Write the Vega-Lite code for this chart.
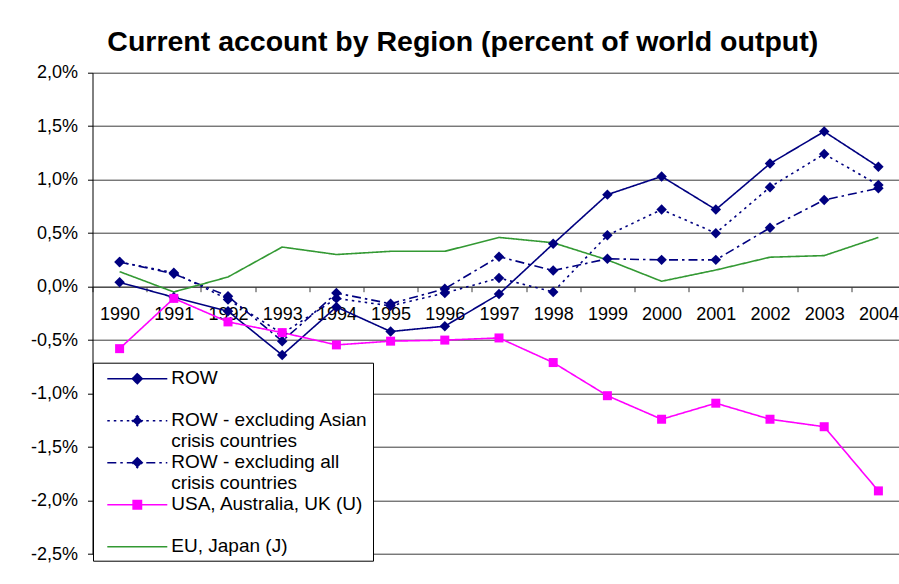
{
  "$schema": "https://vega.github.io/schema/vega-lite/v6.json",
  "width": 806.5,
  "height": 481.3,
  "autosize": {"type": "none"},
  "padding": {"left": 92.5, "top": 72.7, "right": 0, "bottom": 30},
  "background": "white",
  "config": {"view": {"stroke": null}, "font": "Liberation Sans"},
  "title": {"text": "Current account by Region (percent of world output)", "font": "Liberation Sans", "fontSize": 28.5, "fontWeight": "bold", "color": "black", "anchor": "middle", "frame": "group", "dx": -33, "offset": 7},
  "data": {"values": [
    {"year": "1990", "series": "ROW", "v": 0.04},
    {"year": "1991", "series": "ROW", "v": -0.10},
    {"year": "1992", "series": "ROW", "v": -0.23},
    {"year": "1993", "series": "ROW", "v": -0.64},
    {"year": "1994", "series": "ROW", "v": -0.19},
    {"year": "1995", "series": "ROW", "v": -0.42},
    {"year": "1996", "series": "ROW", "v": -0.37},
    {"year": "1997", "series": "ROW", "v": -0.07},
    {"year": "1998", "series": "ROW", "v": 0.40},
    {"year": "1999", "series": "ROW", "v": 0.86},
    {"year": "2000", "series": "ROW", "v": 1.03},
    {"year": "2001", "series": "ROW", "v": 0.72},
    {"year": "2002", "series": "ROW", "v": 1.15},
    {"year": "2003", "series": "ROW", "v": 1.45},
    {"year": "2004", "series": "ROW", "v": 1.12},
    {"year": "1990", "series": "ROW - excluding Asian crisis countries", "v": 0.23},
    {"year": "1991", "series": "ROW - excluding Asian crisis countries", "v": 0.13},
    {"year": "1992", "series": "ROW - excluding Asian crisis countries", "v": -0.12},
    {"year": "1993", "series": "ROW - excluding Asian crisis countries", "v": -0.44},
    {"year": "1994", "series": "ROW - excluding Asian crisis countries", "v": -0.11},
    {"year": "1995", "series": "ROW - excluding Asian crisis countries", "v": -0.18},
    {"year": "1996", "series": "ROW - excluding Asian crisis countries", "v": -0.06},
    {"year": "1997", "series": "ROW - excluding Asian crisis countries", "v": 0.08},
    {"year": "1998", "series": "ROW - excluding Asian crisis countries", "v": -0.05},
    {"year": "1999", "series": "ROW - excluding Asian crisis countries", "v": 0.48},
    {"year": "2000", "series": "ROW - excluding Asian crisis countries", "v": 0.72},
    {"year": "2001", "series": "ROW - excluding Asian crisis countries", "v": 0.50},
    {"year": "2002", "series": "ROW - excluding Asian crisis countries", "v": 0.93},
    {"year": "2003", "series": "ROW - excluding Asian crisis countries", "v": 1.24},
    {"year": "2004", "series": "ROW - excluding Asian crisis countries", "v": 0.95},
    {"year": "1990", "series": "ROW - excluding all crisis countries", "v": 0.23},
    {"year": "1991", "series": "ROW - excluding all crisis countries", "v": 0.12},
    {"year": "1992", "series": "ROW - excluding all crisis countries", "v": -0.09},
    {"year": "1993", "series": "ROW - excluding all crisis countries", "v": -0.51},
    {"year": "1994", "series": "ROW - excluding all crisis countries", "v": -0.06},
    {"year": "1995", "series": "ROW - excluding all crisis countries", "v": -0.16},
    {"year": "1996", "series": "ROW - excluding all crisis countries", "v": -0.02},
    {"year": "1997", "series": "ROW - excluding all crisis countries", "v": 0.28},
    {"year": "1998", "series": "ROW - excluding all crisis countries", "v": 0.15},
    {"year": "1999", "series": "ROW - excluding all crisis countries", "v": 0.26},
    {"year": "2000", "series": "ROW - excluding all crisis countries", "v": 0.25},
    {"year": "2001", "series": "ROW - excluding all crisis countries", "v": 0.25},
    {"year": "2002", "series": "ROW - excluding all crisis countries", "v": 0.55},
    {"year": "2003", "series": "ROW - excluding all crisis countries", "v": 0.81},
    {"year": "2004", "series": "ROW - excluding all crisis countries", "v": 0.92},
    {"year": "1990", "series": "USA, Australia, UK (U)", "v": -0.58},
    {"year": "1991", "series": "USA, Australia, UK (U)", "v": -0.11},
    {"year": "1992", "series": "USA, Australia, UK (U)", "v": -0.33},
    {"year": "1993", "series": "USA, Australia, UK (U)", "v": -0.43},
    {"year": "1994", "series": "USA, Australia, UK (U)", "v": -0.545},
    {"year": "1995", "series": "USA, Australia, UK (U)", "v": -0.51},
    {"year": "1996", "series": "USA, Australia, UK (U)", "v": -0.50},
    {"year": "1997", "series": "USA, Australia, UK (U)", "v": -0.48},
    {"year": "1998", "series": "USA, Australia, UK (U)", "v": -0.71},
    {"year": "1999", "series": "USA, Australia, UK (U)", "v": -1.02},
    {"year": "2000", "series": "USA, Australia, UK (U)", "v": -1.24},
    {"year": "2001", "series": "USA, Australia, UK (U)", "v": -1.09},
    {"year": "2002", "series": "USA, Australia, UK (U)", "v": -1.24},
    {"year": "2003", "series": "USA, Australia, UK (U)", "v": -1.31},
    {"year": "2004", "series": "USA, Australia, UK (U)", "v": -1.91},
    {"year": "1990", "series": "EU, Japan (J)", "v": 0.14},
    {"year": "1991", "series": "EU, Japan (J)", "v": -0.05},
    {"year": "1992", "series": "EU, Japan (J)", "v": 0.09},
    {"year": "1993", "series": "EU, Japan (J)", "v": 0.37},
    {"year": "1994", "series": "EU, Japan (J)", "v": 0.30},
    {"year": "1995", "series": "EU, Japan (J)", "v": 0.33},
    {"year": "1996", "series": "EU, Japan (J)", "v": 0.33},
    {"year": "1997", "series": "EU, Japan (J)", "v": 0.46},
    {"year": "1998", "series": "EU, Japan (J)", "v": 0.41},
    {"year": "1999", "series": "EU, Japan (J)", "v": 0.25},
    {"year": "2000", "series": "EU, Japan (J)", "v": 0.05},
    {"year": "2001", "series": "EU, Japan (J)", "v": 0.155},
    {"year": "2002", "series": "EU, Japan (J)", "v": 0.275},
    {"year": "2003", "series": "EU, Japan (J)", "v": 0.29},
    {"year": "2004", "series": "EU, Japan (J)", "v": 0.46}
  ]},
  "encoding": {
    "x": {"field": "year", "type": "ordinal", "bandPosition": 0.5,
      "scale": {"type": "band", "paddingInner": 0, "paddingOuter": 0, "range": [0, 813]},
      "axis": {"orient": "bottom", "offset": -267.3, "title": null, "domain": true, "domainColor": "#3c3c3c", "ticks": true, "tickBand": "extent", "tickSize": 5, "tickColor": "#3c3c3c", "labelFontSize": 18, "labelFont": "Liberation Sans", "labelColor": "black", "labelPadding": 14, "labelAngle": 0, "grid": false, "labelOverlap": false}},
    "y": {"field": "v", "type": "quantitative",
      "scale": {"domain": [-2.5, 2], "nice": false, "zero": false},
      "axis": {"values": [-2.5, -2, -1.5, -1, -0.5, 0, 0.5, 1, 1.5, 2], "title": null, "grid": true, "gridColor": "#3c3c3c", "gridWidth": 1, "domainColor": "black", "tickColor": "black", "tickSize": 5, "labelFontSize": 18, "labelFont": "Liberation Sans", "labelColor": "black", "labelPadding": 10,
        "labelExpr": "(datum.value < 0 ? '-' : '') + replace(format(abs(datum.value), '.1f'), '.', ',') + '%'"}}
  },
  "layer": [
    {"mark": {"type": "point", "filled": true, "opacity": 0},
     "encoding": {
       "color": {"field": "series", "type": "nominal",
         "scale": {"domain": ["ROW", "ROW - excluding Asian crisis countries", "ROW - excluding all crisis countries", "USA, Australia, UK (U)", "EU, Japan (J)"], "range": ["#000080", "#000080", "#000080", "#FF00FF", "#339933"]},
         "legend": {"title": null, "orient": "none", "legendX": 0.5, "legendY": 290, "direction": "vertical", "columns": 1, "gridAlign": "all", "rowPadding": 0, "padding": 5,
           "fillColor": "white", "strokeColor": "black",
           "symbolSize": 400, "symbolStrokeWidth": 1.5, "symbolOpacity": 1, "symbolOffset": 28.3, "labelOffset": 23,
           "labelFontSize": 19, "labelFont": "Liberation Sans", "labelColor": "black", "labelLimit": 400, "labelBaseline": "top",
           "labelExpr": "datum.label == 'ROW - excluding Asian crisis countries' ? ['ROW - excluding Asian', 'crisis countries'] : datum.label == 'ROW - excluding all crisis countries' ? ['ROW - excluding all', 'crisis countries'] : datum.label",
           "encoding": {
             "symbols": {"fill": {"value": {"expr": "scale('color', datum.value)"}}, "stroke": {"value": {"expr": "scale('color', datum.value)"}}, "opacity": {"value": 1}},
             "labels": {"dy": {"value": -10}, "lineHeight": {"value": 21.3}}
           }}},
       "strokeDash": {"field": "series", "type": "nominal",
         "scale": {"domain": ["ROW", "ROW - excluding Asian crisis countries", "ROW - excluding all crisis countries", "USA, Australia, UK (U)", "EU, Japan (J)"], "range": [[1, 0], [2.5, 4], [9, 4, 2.5, 4], [1, 0], [1, 0]]},
         "legend": {"title": null, "orient": "none", "legendX": 0.5, "legendY": 290}},
       "shape": {"field": "series", "type": "nominal",
         "scale": {"domain": ["ROW", "ROW - excluding Asian crisis countries", "ROW - excluding all crisis countries", "USA, Australia, UK (U)", "EU, Japan (J)"],
           "range": ["M-3,0H3M0,-0.5L0.5,0L0,0.5L-0.5,0Z", "M-3,0H3M0,-0.5L0.5,0L0,0.5L-0.5,0Z", "M-3,0H3M0,-0.5L0.5,0L0,0.5L-0.5,0Z", "M-3,0H3M-0.42,-0.42H0.42V0.42H-0.42Z", "M-3,0H3"]},
         "legend": {"title": null, "orient": "none", "legendX": 0.5, "legendY": 290}}
     }},
    {"mark": {"type": "line", "strokeWidth": 1.6},
     "encoding": {
       "color": {"field": "series", "type": "nominal"},
       "strokeDash": {"field": "series", "type": "nominal"}
     }},
    {"transform": [{"filter": "indexof(datum.series, 'ROW') == 0"}],
     "mark": {"type": "point", "shape": "diamond", "filled": true, "size": 110, "opacity": 1},
     "encoding": {"color": {"field": "series", "type": "nominal"}}},
    {"transform": [{"filter": "datum.series == 'USA, Australia, UK (U)'"}],
     "mark": {"type": "point", "shape": "square", "filled": true, "size": 81, "opacity": 1},
     "encoding": {"color": {"field": "series", "type": "nominal"}}}
  ]
}
